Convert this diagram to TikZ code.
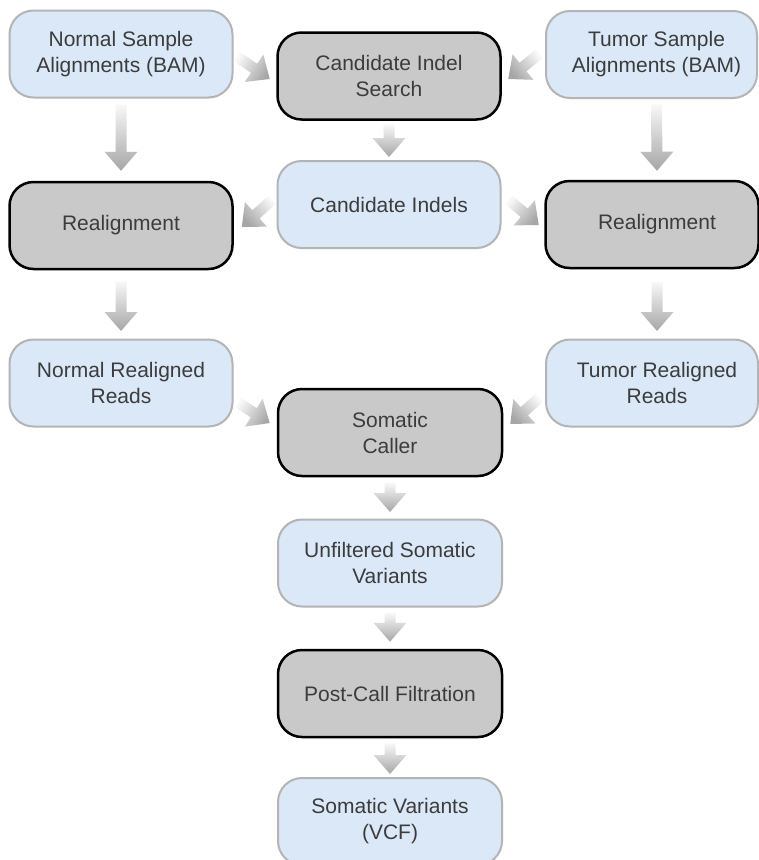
\documentclass[tikz,border=0pt]{standalone}
\usepackage{fontspec}
\setmainfont{Liberation Sans}
\usetikzlibrary{calc}
\definecolor{lblue}{HTML}{DAE8F8}
\definecolor{lborder}{HTML}{B4B4B4}
\definecolor{gfill}{HTML}{C9C9C9}
\definecolor{txt}{HTML}{3C3C3C}
\definecolor{arrlight}{HTML}{F8F8F8}
\definecolor{arrdark}{HTML}{A6A6A6}
\tikzset{
  boxbase/.style={rounded corners=24pt, minimum height=87pt, align=center,
    text=txt, font=\fontsize{21}{26}\selectfont, inner sep=2pt},
  lbox/.style={boxbase, fill=lblue, draw=lborder, line width=2pt, minimum width=223pt},
  gbox/.style={boxbase, fill=gfill, draw=black, line width=2.5pt, minimum width=223pt},
}
\newcommand\rsh{\hspace*{10pt}}
\newcommand\blk[2]{%
  \path let \p1=(#1), \p2=(#2) in \pgfextra{%
    \pgfmathsetmacro\bkang{atan2(\y2-\y1,\x2-\x1)}%
    \pgfmathsetmacro\bklen{veclen(\x2-\x1,\y2-\y1)}%
    \xdef\bkA{\bkang}\xdef\bkL{\bklen}\xdef\bkX{\x1}\xdef\bkY{\y1}%
  };
  \pgfmathsetmacro\bksh{\bkA+90}%
  \shade[top color=arrlight, bottom color=arrdark, shading angle=\bksh,
         shift={(\bkX,\bkY)}, rotate=\bkA]
    (0pt,5.5pt) -- (\bkL pt-19pt,5.5pt) -- (\bkL pt-19pt,16.5pt) -- (\bkL pt,0pt)
    -- (\bkL pt-19pt,-16.5pt) -- (\bkL pt-19pt,-5.5pt) -- (0pt,-5.5pt) -- cycle;
}
\begin{document}
\begin{tikzpicture}[x=1pt,y=-1pt]
\useasboundingbox (0,0) rectangle (759,860);
\fill[white] (0,0) rectangle (759,860);
% nodes
\node[lbox] (nsa) at (121,54) {Normal Sample\\Alignments (BAM)};
\node[gbox] (cis) at (389,76) {Candidate Indel\\Search};
\node[lbox, minimum width=211pt] (tsa) at (651.5,54.5) {\rsh Tumor Sample\\\rsh Alignments (BAM)};
\node[gbox] (realL) at (121,225.5) {Realignment};
\node[lbox] (ci) at (389,204.5) {Candidate Indels};
\node[gbox, minimum width=213pt] (realR) at (652,224.5) {\rsh Realignment};
\node[lbox] (nrr) at (121,383) {Normal Realigned\\Reads};
\node[lbox, minimum width=212pt] (trr) at (652,383) {\rsh Tumor Realigned\\\rsh Reads};
\node[gbox, minimum width=224pt] (sc) at (390,432.5) {Somatic\\Caller};
\node[lbox, minimum width=224pt] (uf) at (390,563) {Unfiltered Somatic\\Variants};
\node[gbox, minimum width=224pt] (pcf) at (390,693.5) {Post-Call Filtration};
\node[lbox, minimum width=224pt] (sv) at (390,821.5) {Somatic Variants\\(VCF)};
% block arrows
\blk{$(nsa.east)+(4,3)$}{$(cis.west)+(-6.5,3)$}
\blk{$(tsa.west)+(-6,-0.5)$}{$(cis.east)+(6.5,3)$}
\blk{$(cis.south)+(0,3.5)$}{$(ci.north)+(0,-3)$}
\blk{$(nsa.south)+(0,6)$}{$(realL.north)+(0,-10)$}
\blk{$(tsa.south)+(5,5.5)$}{$(realR.north)+(5,-9)$}
\blk{$(ci.west)+(-4.5,-4.5)$}{$(realL.east)+(8,1.5)$}
\blk{$(ci.east)+(7.5,-4.5)$}{$(realR.west)+(-5.5,0.5)$}
\blk{$(realL.south)+(0,11)$}{$(nrr.north)+(0,-7.5)$}
\blk{$(realR.south)+(5,12.5)$}{$(trr.north)+(5,-7.5)$}
\blk{$(nrr.east)+(5,20)$}{$(sc.west)+(-7,-9.5)$}
\blk{$(trr.west)+(-6,15)$}{$(sc.east)+(7,-8.5)$}
\blk{$(sc.south)+(0,5.5)$}{$(uf.north)+(0,-6.5)$}
\blk{$(uf.south)+(0,5.5)$}{$(pcf.north)+(0,-7)$}
\blk{$(pcf.south)+(0,5)$}{$(sv.north)+(0,-3)$}
\end{tikzpicture}
\end{document}
